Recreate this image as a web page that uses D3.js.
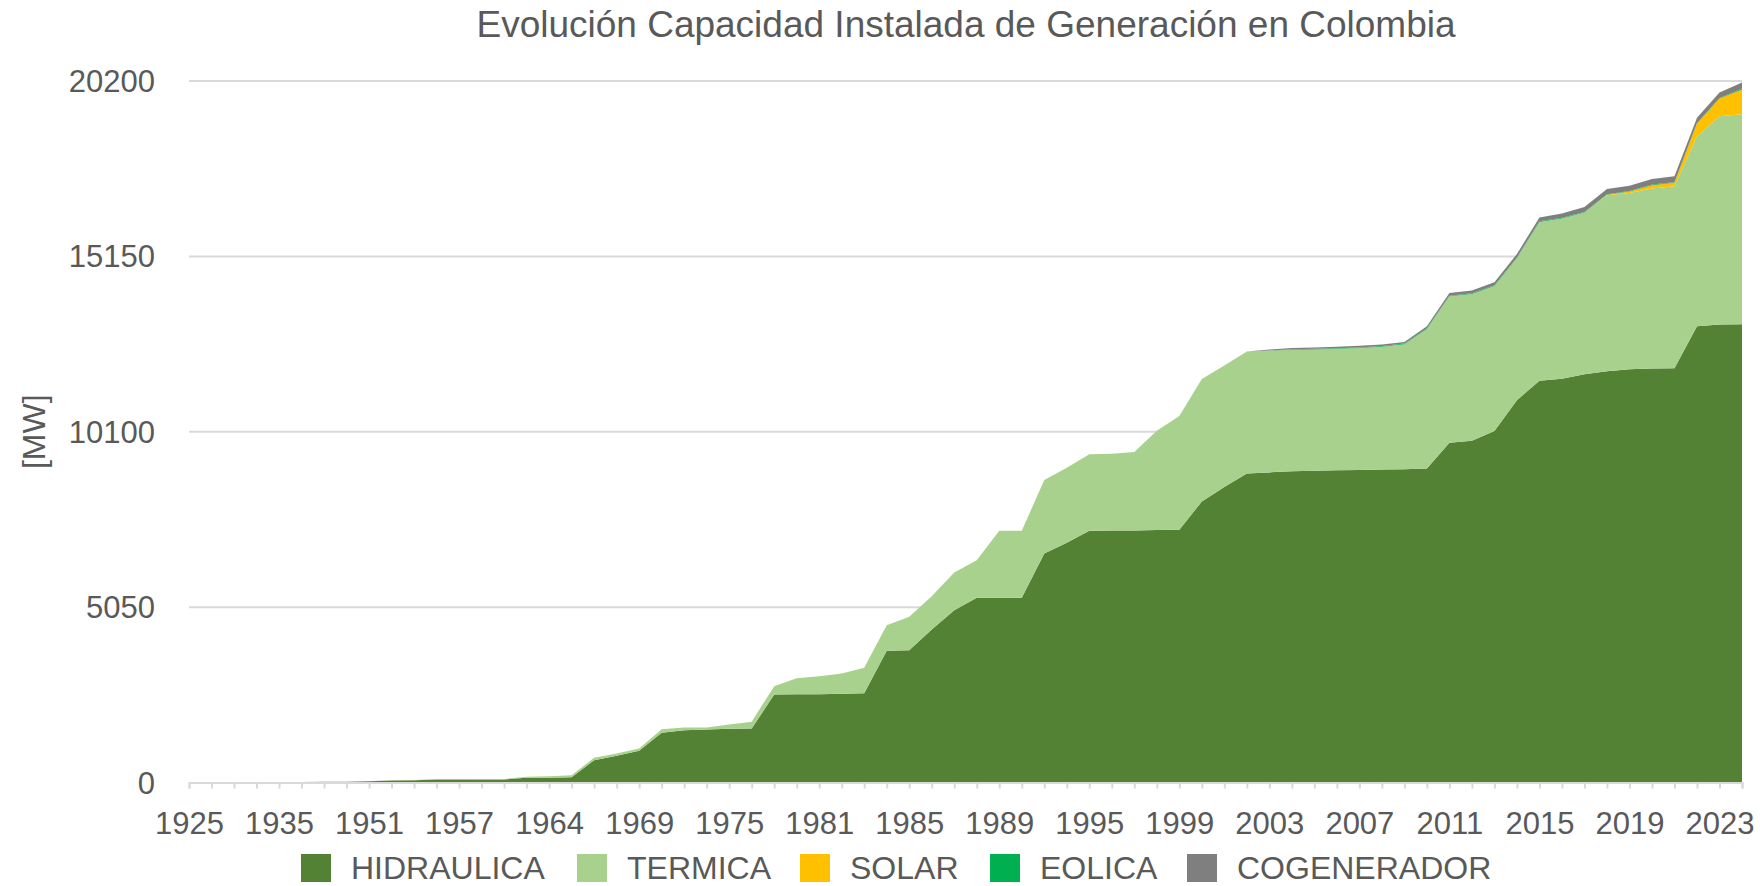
<!DOCTYPE html>
<html>
<head>
<meta charset="utf-8">
<script src="https://cdn.jsdelivr.net/npm/d3@7"></script>
<style>
  body { margin: 0; background: #fff; }
  text { font-family: "Liberation Sans", Arial, sans-serif; fill: #595959; }
</style>
</head>
<body>
<svg id="chart" width="1763" height="886"></svg>
<script>
const width = 1763;
const height = 886;

// categories (one point per year in the source table)
const years = [1925, 1927, 1930, 1932, 1935, 1938, 1942, 1947, 1951, 1953,
  1954, 1955, 1957, 1959, 1960, 1962, 1964, 1965, 1966, 1967,
  1969, 1970, 1971, 1973, 1975, 1976, 1977, 1979, 1981, 1982,
  1983, 1984, 1985, 1986, 1987, 1988, 1989, 1990, 1992, 1993,
  1995, 1996, 1997, 1998, 1999, 2000, 2001, 2002, 2003, 2004,
  2005, 2006, 2007, 2008, 2009, 2010, 2011, 2012, 2013, 2014,
  2015, 2016, 2017, 2018, 2019, 2020, 2021, 2022, 2023, 2024];

const hidraulica = [0, 0, 2, 5, 10, 15, 20, 25, 35, 60,
  65, 85, 88, 90, 90, 135, 138, 154, 643, 768,
  912, 1430, 1507, 1526, 1546, 1555, 2534, 2544, 2544, 2554,
  2573, 3792, 3811, 4406, 4963, 5318, 5318, 5318, 6595, 6902,
  7250, 7260, 7260, 7270, 7280, 8093, 8510, 8900, 8930, 8960,
  8980, 8990, 9000, 9010, 9020, 9040, 9780, 9840, 10120, 11010,
  11566, 11624, 11759, 11845, 11903, 11922, 11932, 13141, 13189, 13198];

const termica = [0, 0, 0, 0, 0, 0, 0, 0, 3, 5,
  5, 8, 8, 8, 12, 30, 45, 57, 67, 67,
  67, 106, 77, 58, 124, 192, 240, 461, 518, 585,
  729, 739, 960, 960, 1085, 1085, 1933, 1933, 2113, 2162,
  2202, 2210, 2257, 2862, 3273, 3528, 3499, 3510, 3510, 3500,
  3490, 3500, 3510, 3540, 3600, 4020, 4220, 4230, 4180, 4090,
  4577, 4617, 4654, 5066, 5075, 5182, 5238, 5469, 5996, 6045];

const solar = [0, 0, 0, 0, 0, 0, 0, 0, 0, 0,
  0, 0, 0, 0, 0, 0, 0, 0, 0, 0,
  0, 0, 0, 0, 0, 0, 0, 0, 0, 0,
  0, 0, 0, 0, 0, 0, 0, 0, 0, 0,
  0, 0, 0, 0, 0, 0, 0, 0, 0, 0,
  0, 0, 0, 0, 0, 0, 0, 0, 0, 0,
  0, 0, 0, 10, 40, 95, 100, 365, 509, 711];

const eolica = [0, 0, 0, 0, 0, 0, 0, 0, 0, 0,
  0, 0, 0, 0, 0, 0, 0, 0, 0, 0,
  0, 0, 0, 0, 0, 0, 0, 0, 0, 0,
  0, 0, 0, 0, 0, 0, 0, 0, 0, 0,
  0, 0, 0, 0, 0, 0, 0, 0, 0, 18,
  18, 18, 18, 18, 18, 18, 18, 18, 18, 18,
  18, 18, 18, 18, 18, 18, 18, 18, 20, 30];

const cogenerador = [0, 0, 0, 0, 0, 0, 0, 0, 0, 0,
  0, 0, 0, 0, 0, 0, 0, 0, 0, 0,
  0, 0, 0, 0, 0, 0, 0, 0, 0, 0,
  0, 0, 0, 0, 0, 0, 0, 0, 0, 0,
  0, 0, 0, 0, 0, 0, 0, 0, 30, 35,
  40, 40, 45, 45, 50, 60, 80, 80, 90, 100,
  110, 125, 140, 150, 150, 160, 170, 150, 155, 170];

const yTicks = [0, 5050, 10100, 15150, 20200];
const labelYears = [1925, 1935, 1951, 1957, 1964, 1969, 1975, 1981, 1985, 1989,
  1995, 1999, 2003, 2007, 2011, 2015, 2019, 2023];

const keys = ["HIDRAULICA", "TERMICA", "SOLAR", "EOLICA", "COGENERADOR"];
const seriesData = [hidraulica, termica, solar, eolica, cogenerador];
const colors = ["#548235", "#A9D18E", "#FFC000", "#00B050", "#7F7F7F"];

const rows = years.map((y, i) => {
  const r = { year: y };
  keys.forEach((k, j) => { r[k] = seriesData[j][i]; });
  return r;
});

const plotLeft = 189, plotRight = 1742, plotTop = 81, plotBottom = 782.5;

const x = d3.scalePoint().domain(years).range([plotLeft, plotRight]).padding(0);
const y = d3.scaleLinear().domain([0, 20200]).range([plotBottom, plotTop]);
const color = d3.scaleOrdinal().domain(keys).range(colors);

const svg = d3.select("#chart");

// gridlines
svg.append("g")
  .selectAll("line")
  .data(yTicks.filter(d => d > 0))
  .enter()
  .append("line")
  .attr("x1", plotLeft)
  .attr("x2", plotRight)
  .attr("y1", d => y(d))
  .attr("y2", d => y(d))
  .attr("stroke", "#D9D9D9")
  .attr("stroke-width", 2);

// stacked areas
const stacked = d3.stack().keys(keys)(rows);
const area = d3.area()
  .x(d => x(d.data.year))
  .y0(d => y(d[0]))
  .y1(d => y(d[1]));

svg.append("g")
  .selectAll("path")
  .data(stacked)
  .enter()
  .append("path")
  .attr("d", area)
  .attr("fill", d => color(d.key));

// x axis
const xAxis = d3.axisBottom(x)
  .tickSize(6)
  .tickFormat(d => labelYears.includes(d) ? d : "");

const xg = svg.append("g")
  .attr("transform", "translate(0," + plotBottom + ")")
  .call(xAxis);
xg.select(".domain").attr("stroke", "#D9D9D9").attr("stroke-width", 2);
xg.selectAll(".tick line").attr("stroke", "#D9D9D9").attr("stroke-width", 2);
xg.selectAll(".tick text")
  .attr("y", 0)
  .attr("dy", 51)
  .style("font-size", "31px")
  .attr("fill", "#595959");
xg.attr("font-family", null);

// y axis labels
svg.append("g")
  .selectAll("text")
  .data(yTicks)
  .enter()
  .append("text")
  .attr("x", 155)
  .attr("y", d => y(d) + 11)
  .attr("text-anchor", "end")
  .style("font-size", "31px")
  .text(d => d);

// y axis title
svg.append("text")
  .attr("transform", "translate(34," + ((plotTop + plotBottom) / 2) + ") rotate(-90)")
  .attr("text-anchor", "middle")
  .attr("dominant-baseline", "central")
  .style("font-size", "32px")
  .text("[MW]");

// title
svg.append("text")
  .attr("x", 966)
  .attr("y", 37)
  .attr("text-anchor", "middle")
  .style("font-size", "37px")
  .text("Evolución Capacidad Instalada de Generación en Colombia");

// legend
const legendX = [301, 577, 800, 990, 1187];
const legend = svg.append("g")
  .selectAll("g")
  .data(keys)
  .enter()
  .append("g")
  .attr("transform", (d, i) => "translate(" + legendX[i] + ",854)");

legend.append("rect")
  .attr("width", 30)
  .attr("height", 28)
  .attr("fill", d => color(d));

legend.append("text")
  .attr("x", 50)
  .attr("y", 25)
  .style("font-size", "32px")
  .text(d => d);
</script>
</body>
</html>
